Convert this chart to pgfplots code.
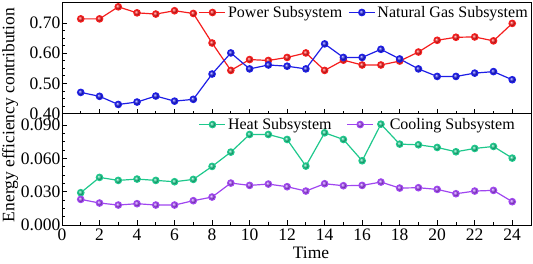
\documentclass[border=0pt]{standalone}
\usepackage{fontspec}
\setmainfont{Liberation Serif}
\usepackage{pgfplots}
\pgfplotsset{compat=1.18}
\definecolor{cRed}{RGB}{245,30,30}
\definecolor{cBlue}{RGB}{30,30,230}
\definecolor{cGreen}{RGB}{30,200,140}
\definecolor{cPurple}{RGB}{160,70,240}
\pgfplotsset{
  myax/.style={
    scale only axis, width=469pt, height=111.5pt,
    xmin=0, xmax=25, xtick={0,2,...,24}, minor x tick num=1,
    minor y tick num=3,
    tick align=inside, xtick pos=lower, ytick pos=left,
    major tick length=5pt, minor tick length=3pt,
    axis line style={line width=0.9pt}, tick style={line width=0.8pt, black},
    ticklabel style={font=\fontsize{17.5}{20}\selectfont},
    yticklabel style={inner xsep=1.5pt},
    /pgf/number format/assume math mode=true,
    legend columns=2,
    legend style={draw=none, fill=none, font=\fontsize{16}{18}\selectfont},
    legend image code/.code={\draw[mark repeat=2,mark phase=2,##1] plot coordinates {(0pt,0pt) (13pt,0pt) (26pt,0pt)};},
    every axis plot/.append style={line width=1.2pt, mark=ball, mark size=3.2pt},
  }
}
\begin{document}
\begin{tikzpicture}
\path[use as bounding box] (-62pt,-38pt) rectangle (471pt,225pt);
% bottom panel
\begin{axis}[myax, at={(0,0)}, anchor=south west,
  ymin=0, ymax=0.1005, ytick={0,0.03,0.06,0.09},
  yticklabel style={/pgf/number format/fixed, /pgf/number format/fixed zerofill, /pgf/number format/precision=3},
  legend style={at={(rel axis cs:0.285,0.995)}, anchor=north west,
    /tikz/every even column/.append style={column sep=13pt}}]
\addplot[cGreen, mark options={ball color=cGreen}] coordinates {
(1,0.0291) (2,0.0429) (3,0.0402) (4,0.0414) (5,0.0402) (6,0.0390) (7,0.0411) (8,0.0528)
(9,0.0657) (10,0.0816) (11,0.0816) (12,0.0771) (13,0.0531) (14,0.0831) (15,0.0771) (16,0.0579)
(17,0.0909) (18,0.0729) (19,0.0723) (20,0.0699) (21,0.0660) (22,0.0690) (23,0.0708) (24,0.0603)};
\addlegendentry{Heat Subsystem}
\addplot[cPurple, mark options={ball color=cPurple}] coordinates {
(1,0.0231) (2,0.0198) (3,0.0180) (4,0.0192) (5,0.0180) (6,0.0180) (7,0.0219) (8,0.0252)
(9,0.0378) (10,0.0357) (11,0.0369) (12,0.0345) (13,0.0306) (14,0.0372) (15,0.0354) (16,0.0357)
(17,0.0387) (18,0.0333) (19,0.0336) (20,0.0321) (21,0.0282) (22,0.0306) (23,0.0312) (24,0.0210)};
\addlegendentry{\hspace*{14pt}Cooling Subsystem}
\end{axis}
% top panel
\begin{axis}[myax, at={(0,111.5pt)}, anchor=south west,
  ymin=0.40, ymax=0.77, ytick={0.40,0.50,0.60,0.70}, xticklabels={},
  yticklabel style={/pgf/number format/fixed, /pgf/number format/fixed zerofill, /pgf/number format/precision=2},
  legend style={at={(rel axis cs:0.285,1.0)}, anchor=north west,
    /tikz/every even column/.append style={column sep=4pt}}]
\addplot[cRed, mark options={ball color=cRed}] coordinates {
(1,0.714) (2,0.714) (3,0.754) (4,0.734) (5,0.730) (6,0.741) (7,0.732) (8,0.634)
(9,0.543) (10,0.579) (11,0.576) (12,0.586) (13,0.601) (14,0.543) (15,0.577) (16,0.561)
(17,0.561) (18,0.574) (19,0.604) (20,0.643) (21,0.653) (22,0.654) (23,0.641) (24,0.699)};
\addlegendentry{Power Subsystem}
\addplot[cBlue, mark options={ball color=cBlue}] coordinates {
(1,0.470) (2,0.457) (3,0.430) (4,0.438) (5,0.458) (6,0.441) (7,0.447) (8,0.531)
(9,0.601) (10,0.548) (11,0.561) (12,0.557) (13,0.548) (14,0.631) (15,0.586) (16,0.586)
(17,0.613) (18,0.581) (19,0.548) (20,0.523) (21,0.523) (22,0.534) (23,0.539) (24,0.512)};
\addlegendentry{Natural Gas Subsystem}
\end{axis}
\node[rotate=90, font=\fontsize{17.5}{20}\selectfont] at (-52pt,110pt) {Energy efficiency contribution};
\node[font=\fontsize{17.5}{20}\selectfont] at (249pt,-28pt) {Time};
\end{tikzpicture}
\end{document}
